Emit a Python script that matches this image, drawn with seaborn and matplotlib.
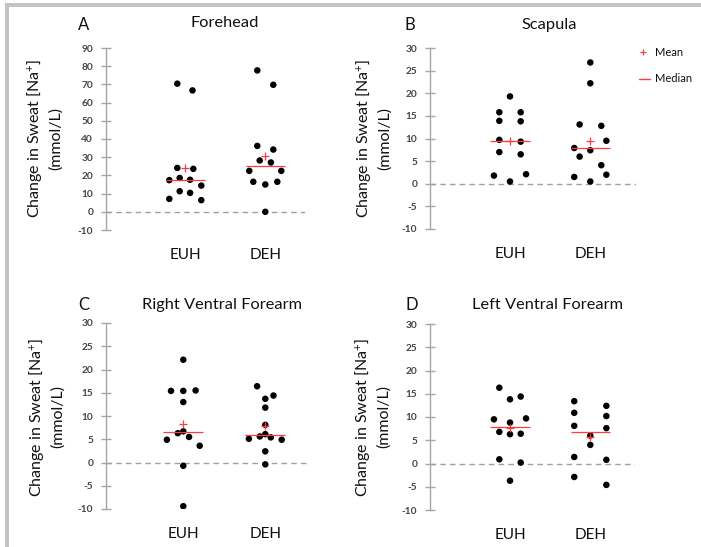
import numpy as np
import pandas as pd
import matplotlib
matplotlib.use("Agg")
import matplotlib.pyplot as plt
import seaborn as sns
from matplotlib.lines import Line2D
from matplotlib.patches import Rectangle

# ---------------- data ----------------
groups = ["EUH", "DEH"]
titles = ["Forehead", "Scapula", "Right Ventral Forearm", "Left Ventral Forearm"]
panel_letters = ["A", "B", "C", "D"]

forehead_euh = [70.4, 66.7, 24.1, 23.6, 18.6, 17.4, 17.6, 14.4, 11.3, 10.4, 7.1, 6.4]
forehead_deh = [77.7, 69.8, 36.2, 34.2, 28.2, 27.1, 22.5, 22.5, 16.5, 15.0, 16.5, 0.0]
scapula_euh = [19.3, 15.8, 15.8, 13.9, 13.8, 9.7, 9.3, 7.0, 6.5, 1.8, 2.1, 0.5]
scapula_deh = [26.8, 22.2, 13.1, 12.8, 9.5, 7.9, 7.4, 6.0, 4.1, 1.5, 2.0, 0.5]
right_euh = [22.1, 15.4, 15.4, 15.5, 13.0, 6.7, 6.3, 5.5, 4.9, 3.6, -0.7, -9.4]
right_deh = [16.4, 13.7, 14.4, 11.8, 8.1, 6.1, 5.6, 5.4, 5.1, 4.9, 2.4, -0.4]
left_euh = [16.3, 13.8, 14.4, 9.5, 8.8, 9.7, 6.8, 6.3, 6.4, 0.9, 0.2, -3.7]
left_deh = [13.4, 12.4, 10.9, 10.2, 8.1, 7.6, 6.0, 4.0, 1.4, 0.8, -2.9, -4.6]

# horizontal spread of each dot within its group (category units)
forehead_euh_jit = [-0.10, 0.09, -0.10, 0.10, -0.07, -0.20, 0.06, 0.20, -0.07, 0.06, -0.20, 0.20]
forehead_deh_jit = [-0.10, 0.10, -0.10, 0.10, -0.07, 0.07, -0.20, 0.20, -0.15, 0.0, 0.15, 0.0]
scapula_euh_jit = [0.0, -0.133, 0.133, -0.133, 0.133, -0.133, 0.133, -0.133, 0.133, -0.20, 0.20, 0.0]
scapula_deh_jit = [0.0, 0.0, -0.133, 0.137, 0.20, -0.20, 0.0, -0.133, 0.137, -0.20, 0.20, 0.0]
right_euh_jit = [0.0, -0.15, 0.0, 0.15, 0.0, 0.0, -0.067, 0.07, -0.20, 0.20, 0.0, 0.0]
right_deh_jit = [-0.10, 0.0, 0.10, 0.0, 0.0, 0.0, -0.067, 0.067, -0.20, 0.20, 0.0, 0.0]
left_euh_jit = [-0.133, 0.0, 0.133, -0.20, 0.0, 0.20, -0.133, 0.0, 0.133, -0.133, 0.133, 0.0]
left_deh_jit = [-0.20, 0.20, -0.20, 0.20, -0.20, 0.20, 0.0, 0.0, -0.20, 0.20, -0.20, 0.20]

forehead_mean = [24.1, 30.5]
scapula_mean = [9.5, 9.4]
right_mean = [8.2, 7.9]
left_mean = [7.6, 5.8]

forehead_median = [17.7, 25.0]
scapula_median = [9.4, 7.8]
right_median = [6.5, 5.9]
left_median = [7.8, 6.7]

forehead_yticks = list(range(-10, 91, 10))
other_yticks = list(range(-10, 31, 5))

ylabel_text = "Change in Sweat [Na$^{+}$]\n(mmol/L)"

panels = [
    (forehead_euh, forehead_deh, forehead_euh_jit, forehead_deh_jit, forehead_mean, forehead_median, forehead_yticks),
    (scapula_euh, scapula_deh, scapula_euh_jit, scapula_deh_jit, scapula_mean, scapula_median, other_yticks),
    (right_euh, right_deh, right_euh_jit, right_deh_jit, right_mean, right_median, other_yticks),
    (left_euh, left_deh, left_euh_jit, left_deh_jit, left_mean, left_median, other_yticks),
]

# ---------------- layout (pixels) ----------------
W, H = 701, 547
# left spine, top, right, bottom, EUH centre, DEH centre
boxes = [
    (106, 48, 305, 230, 185.3, 265.3),
    (430, 48, 636, 229, 510.0, 590.3),
    (106, 323, 309, 509, 183.3, 265.3),
    (430, 324, 635, 510, 510.0, 590.3),
]
letter_pos = [(84, 25), (410, 25), (84, 305), (412, 305)]
title_pos = [(225, 23), (549, 25), (222, 305), (548, 305)]
ylabel_pos = [(44, 138), (373, 138), (46, 417), (372, 417)]

sns.set_theme(style="white")
FONT = ["Lato", "DejaVu Sans"]
plt.rcParams["font.family"] = FONT
plt.rcParams["mathtext.fontset"] = "custom"
plt.rcParams["mathtext.rm"] = "Lato"
plt.rcParams["mathtext.it"] = "Lato:italic"

fig = plt.figure(figsize=(W / 100, H / 100), dpi=100)
fig.patch.set_facecolor("white")

def fx(x):
    return x / W

def fy(y):
    return 1 - y / H

# grey frame at top and left
fig.add_artist(Rectangle((fx(5), fy(7)), fx(W - 5), 4 / H, transform=fig.transFigure,
                         facecolor="#c3c3c3", edgecolor="none"))
fig.add_artist(Rectangle((fx(5), 0), 4 / W, fy(3), transform=fig.transFigure,
                         facecolor="#c3c3c3", edgecolor="none"))

AXCOL = "#a6a6a6"
RED = "#ff3b3b"

for i, (euh, deh, ej, dj, mean, med, yticks) in enumerate(panels):
    left, top, right, bottom, pe, pd_ = boxes[i]
    ax = fig.add_axes([fx(left), fy(bottom), (right - left) / W, (bottom - top) / H])
    ax.set_facecolor("none")
    unit = pd_ - pe
    ax.set_xlim(-(pe - left) / unit, (right - pe) / unit)
    ax.set_ylim(yticks[0], yticks[-1])

    df = pd.DataFrame({
        "x": [0 + j for j in ej] + [1 + j for j in dj],
        "value": euh + deh,
    })
    ax.axhline(0, color="#a0a0a0", lw=1.0, ls=(0, (4, 3)), zorder=1)
    sns.scatterplot(data=df, x="x", y="value", ax=ax, color="black", s=22,
                    edgecolor="none", zorder=3, legend=False)
    summ = pd.DataFrame({"x": [0, 1], "mean": mean, "median": med})
    ax.hlines(summ["median"], summ["x"] - 0.245, summ["x"] + 0.245, color=RED, lw=0.9, zorder=4)
    sns.scatterplot(data=summ, x="x", y="mean", ax=ax, marker="+", color=RED, s=28,
                    linewidth=0.9, zorder=5, legend=False)

    for s in ["top", "right", "bottom"]:
        ax.spines[s].set_visible(False)
    ax.spines["left"].set_color(AXCOL)
    ax.spines["left"].set_linewidth(1.0)
    ax.set_yticks(yticks)
    ax.set_yticklabels([str(t) for t in yticks], fontweight="bold")
    ax.tick_params(axis="y", direction="inout", length=6.5, width=1.0, color=AXCOL,
                   labelsize=7.3, labelcolor="#454545", pad=6, left=True)
    ax.set_xticks([0, 1])
    ax.set_xticklabels(groups)
    ax.tick_params(axis="x", length=0, labelsize=11, labelcolor="#111111", pad=13)
    ax.set_xlabel("")
    ax.set_ylabel("")

    fig.text(fx(letter_pos[i][0]), fy(letter_pos[i][1]), panel_letters[i], ha="center",
             va="center", fontsize=12, color="#111111")
    fig.text(fx(title_pos[i][0]), fy(title_pos[i][1]), titles[i], ha="center",
             va="center", fontsize=11.8, color="#111111")
    fig.text(fx(ylabel_pos[i][0]), fy(ylabel_pos[i][1]), ylabel_text, ha="center",
             va="center", rotation=90, fontsize=11.5, color="#111111",
             multialignment="center", linespacing=1.25)

# legend in panel B (manual)
fig.add_artist(Line2D([fx(643)], [fy(52)], marker="+", color=RED, markersize=5,
                      markeredgewidth=0.9, linestyle="none", transform=fig.transFigure))
fig.text(fx(655), fy(52), "Mean", ha="left", va="center", fontsize=8, color="#111111")
fig.add_artist(Line2D([fx(639), fx(650)], [fy(79), fy(79)], color=RED, lw=1.0,
                      transform=fig.transFigure))
fig.text(fx(655), fy(79), "Median", ha="left", va="center", fontsize=8, color="#111111")

fig.savefig("out.png", dpi=100, facecolor="white")
